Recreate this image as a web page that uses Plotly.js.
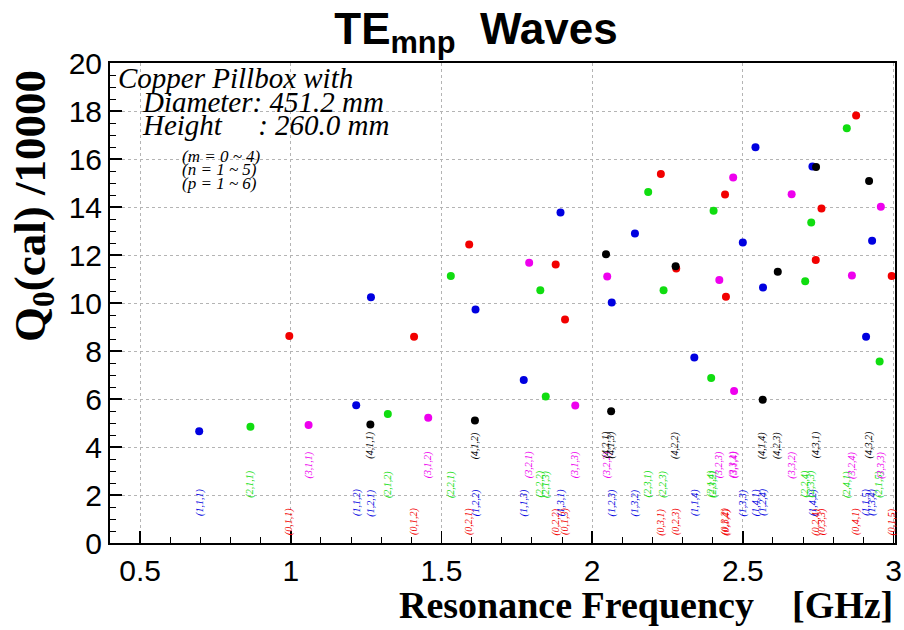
<!DOCTYPE html>
<html>
<head>
<meta charset="utf-8">
<script src="https://cdn.plot.ly/plotly-3.0.1.min.js"></script>
<style>
  html, body { margin: 0; padding: 0; background: #fff; }
  #chart { width: 904px; height: 630px; }
</style>
</head>
<body>
<div id="chart"></div>
<script>
// ---- Data: TE_mnp modes (m = 0..4), resonance frequency [GHz] and Q0/10000 ----
const m0_label = ["(0,1,1)","(0,1,2)","(0,1,3)","(0,1,4)","(0,1,5)","(0,2,1)","(0,2,2)","(0,2,3)","(0,2,4)","(0,3,1)","(0,3,2)","(0,3,3)","(0,4,1)"];
const m0_freq  = [0.995, 1.409, 1.910, 2.444, 2.994, 1.592, 1.879, 2.279, 2.742, 2.228, 2.441, 2.761, 2.876];
const m0_q     = [8.63, 8.59, 9.31, 10.26, 11.12, 12.44, 11.60, 11.44, 11.79, 15.38, 14.52, 13.94, 17.81];

const m1_label = ["(1,1,1)","(1,1,2)","(1,1,3)","(1,1,4)","(1,1,5)","(1,2,1)","(1,2,2)","(1,2,3)","(1,2,4)","(1,3,1)","(1,3,2)","(1,3,3)","(1,3,4)","(1,4,1)","(1,4,2)"];
const m1_freq  = [0.696, 1.217, 1.773, 2.339, 2.909, 1.266, 1.613, 2.065, 2.567, 1.895, 2.142, 2.500, 2.929, 2.542, 2.731];
const m1_q     = [4.66, 5.74, 6.79, 7.73, 8.59, 10.24, 9.73, 10.02, 10.65, 13.77, 12.90, 12.52, 12.59, 16.49, 15.69];

const m2_label = ["(2,1,1)","(2,1,2)","(2,1,3)","(2,1,4)","(2,1,5)","(2,2,1)","(2,2,2)","(2,2,3)","(2,2,4)","(2,3,1)","(2,3,2)","(2,3,3)","(2,4,1)","(2,4,2)"];
const m2_freq  = [0.866, 1.322, 1.846, 2.395, 2.954, 1.531, 1.828, 2.237, 2.707, 2.186, 2.403, 2.727, 2.845, 3.015];
const m2_q     = [4.84, 5.37, 6.10, 6.87, 7.56, 11.13, 10.53, 10.53, 10.91, 14.62, 13.84, 13.35, 17.28, 16.53];

const m3_label = ["(3,1,1)","(3,1,2)","(3,1,3)","(3,1,4)","(3,2,1)","(3,2,2)","(3,2,3)","(3,2,4)","(3,3,1)","(3,3,2)","(3,3,3)"];
const m3_freq  = [1.059, 1.456, 1.944, 2.471, 1.791, 2.050, 2.422, 2.862, 2.468, 2.662, 2.958];
const m3_q     = [4.92, 5.22, 5.73, 6.33, 11.68, 11.10, 10.96, 11.15, 15.23, 14.53, 14.01];

const m4_label = ["(4,1,1)","(4,1,2)","(4,1,3)","(4,1,4)","(4,2,1)","(4,2,2)","(4,2,3)","(4,3,1)","(4,3,2)"];
const m4_freq  = [1.264, 1.611, 2.063, 2.566, 2.046, 2.277, 2.616, 2.743, 2.919];
const m4_q     = [4.94, 5.10, 5.49, 5.97, 12.03, 11.53, 11.30, 15.67, 15.08];

const xTickVals = [0.5, 1, 1.5, 2, 2.5, 3];
const yTickVals = [0, 2, 4, 6, 8, 10, 12, 14, 16, 18, 20];

// ---- styling ----
const groups = [
  {label: m0_label, freq: m0_freq, q: m0_q, color: "#f20000", row: 0.88},
  {label: m1_label, freq: m1_freq, q: m1_q, color: "#0000e0", row: 1.68},
  {label: m2_label, freq: m2_freq, q: m2_q, color: "#10dd10", row: 2.45},
  {label: m3_label, freq: m3_freq, q: m3_q, color: "#ee00ee", row: 3.25},
  {label: m4_label, freq: m4_freq, q: m4_q, color: "#000000", row: 4.07}
];
const XMAX = 3.005;

const traces = groups.map((g, i) => ({
  type: "scatter",
  mode: "markers",
  x: g.freq,
  y: g.q,
  name: "m=" + i,
  cliponaxis: false,
  marker: {size: 8, color: g.color, line: {width: 0}},
  hoverinfo: "x+y"
}));

const annotations = [];
groups.forEach(g => {
  g.label.forEach((lab, k) => {
    if (g.freq[k] > XMAX) return;
    annotations.push({
      xref: "x", yref: "y", x: g.freq[k], y: g.row,
      text: "<i>" + lab + "</i>", showarrow: false, textangle: -90,
      xanchor: "center", yanchor: "middle",
      font: {family: "Liberation Serif, Times New Roman, serif", size: 10, color: g.color}
    });
  });
});

const serifIt = "Liberation Serif, Times New Roman, serif";
function pX(px) { return (px - 110) / 785; }
function pY(py) { return (543 - py) / 480; }

annotations.push(
  {xref: "paper", yref: "paper", x: pX(116), y: pY(78), xanchor: "left", yanchor: "middle", showarrow: false,
   text: "<i>Copper Pillbox with</i>", font: {family: serifIt, size: 29, color: "#000"}},
  {xref: "paper", yref: "paper", x: pX(140), y: pY(102), xanchor: "left", yanchor: "middle", showarrow: false,
   text: "<i>Diameter: 451.2 mm</i>", font: {family: serifIt, size: 29, color: "#000"}},
  {xref: "paper", yref: "paper", x: pX(140), y: pY(124.5), xanchor: "left", yanchor: "middle", showarrow: false,
   text: "<i>Height\u00A0\u00A0\u00A0\u00A0\u00A0: 260.0 mm</i>", font: {family: serifIt, size: 29, color: "#000"}},
  {xref: "paper", yref: "paper", x: pX(180), y: pY(156), xanchor: "left", yanchor: "middle", showarrow: false,
   text: "<i>(m = 0 ~ 4)</i>", font: {family: serifIt, size: 17, color: "#000"}},
  {xref: "paper", yref: "paper", x: pX(180), y: pY(169.5), xanchor: "left", yanchor: "middle", showarrow: false,
   text: "<i>(n = 1 ~ 5)</i>", font: {family: serifIt, size: 17, color: "#000"}},
  {xref: "paper", yref: "paper", x: pX(180), y: pY(183), xanchor: "left", yanchor: "middle", showarrow: false,
   text: "<i>(p = 1 ~ 6)</i>", font: {family: serifIt, size: 17, color: "#000"}},
  // axis titles
  {xref: "paper", yref: "paper", x: pX(895), y: pY(605), xanchor: "right", yanchor: "middle", showarrow: false,
   text: "<b>Resonance Frequency\u00A0\u00A0\u00A0\u00A0[GHz]</b>",
   font: {family: "Liberation Serif, Times New Roman, serif", size: 38, color: "#000"}},
  {xref: "paper", yref: "paper", x: pX(33), y: pY(206), xanchor: "center", yanchor: "middle", showarrow: false,
   textangle: -90,
   text: "<b>Q<sub>0</sub>(cal) /10000</b>",
   font: {family: "Liberation Serif, Times New Roman, serif", size: 45, color: "#000"}}
);

const layout = {
  width: 904, height: 630,
  margin: {l: 110, r: 9, t: 63, b: 87},
  paper_bgcolor: "#fff", plot_bgcolor: "#fff",
  showlegend: false,
  title: {
    text: "<b>TE<sub>mnp</sub>\u00A0\u00A0Waves</b>",
    x: 476 / 904, xanchor: "center", xref: "container",
    y: 1 - 13 / 630, yanchor: "top", yref: "container",
    font: {family: "Liberation Sans, Arial, sans-serif", size: 44, color: "#000"}
  },
  xaxis: {
    range: [0.4, XMAX],
    tickvals: xTickVals,
    ticktext: xTickVals.map(String),
    ticks: "inside", ticklen: 12, tickwidth: 1.5, tickcolor: "#000",
    minor: {dtick: 0.1, tick0: 0, ticks: "inside", ticklen: 6, tickwidth: 1, tickcolor: "#000", showgrid: false},
    showgrid: true, gridcolor: "#b4b4b4", griddash: "dot", gridwidth: 1,
    showline: true, mirror: true, linecolor: "#000", linewidth: 2,
    zeroline: false,
    tickfont: {family: "Liberation Sans, Arial, sans-serif", size: 30, color: "#000"},
    ticklabelstandoff: 0
  },
  yaxis: {
    range: [0, 20],
    tickvals: yTickVals,
    ticktext: yTickVals.map(String),
    ticks: "inside", ticklen: 12, tickwidth: 1.5, tickcolor: "#000",
    minor: {dtick: 0.5, tick0: 0, ticks: "inside", ticklen: 6, tickwidth: 1, tickcolor: "#000", showgrid: false},
    showgrid: true, gridcolor: "#b4b4b4", griddash: "dot", gridwidth: 1,
    showline: true, mirror: true, linecolor: "#000", linewidth: 2,
    zeroline: false,
    tickfont: {family: "Liberation Sans, Arial, sans-serif", size: 30, color: "#000"},
    ticklabelstandoff: 0
  },
  annotations: annotations
};

Plotly.newPlot("chart", traces, layout, {displayModeBar: false, staticPlot: true});
</script>
</body>
</html>
